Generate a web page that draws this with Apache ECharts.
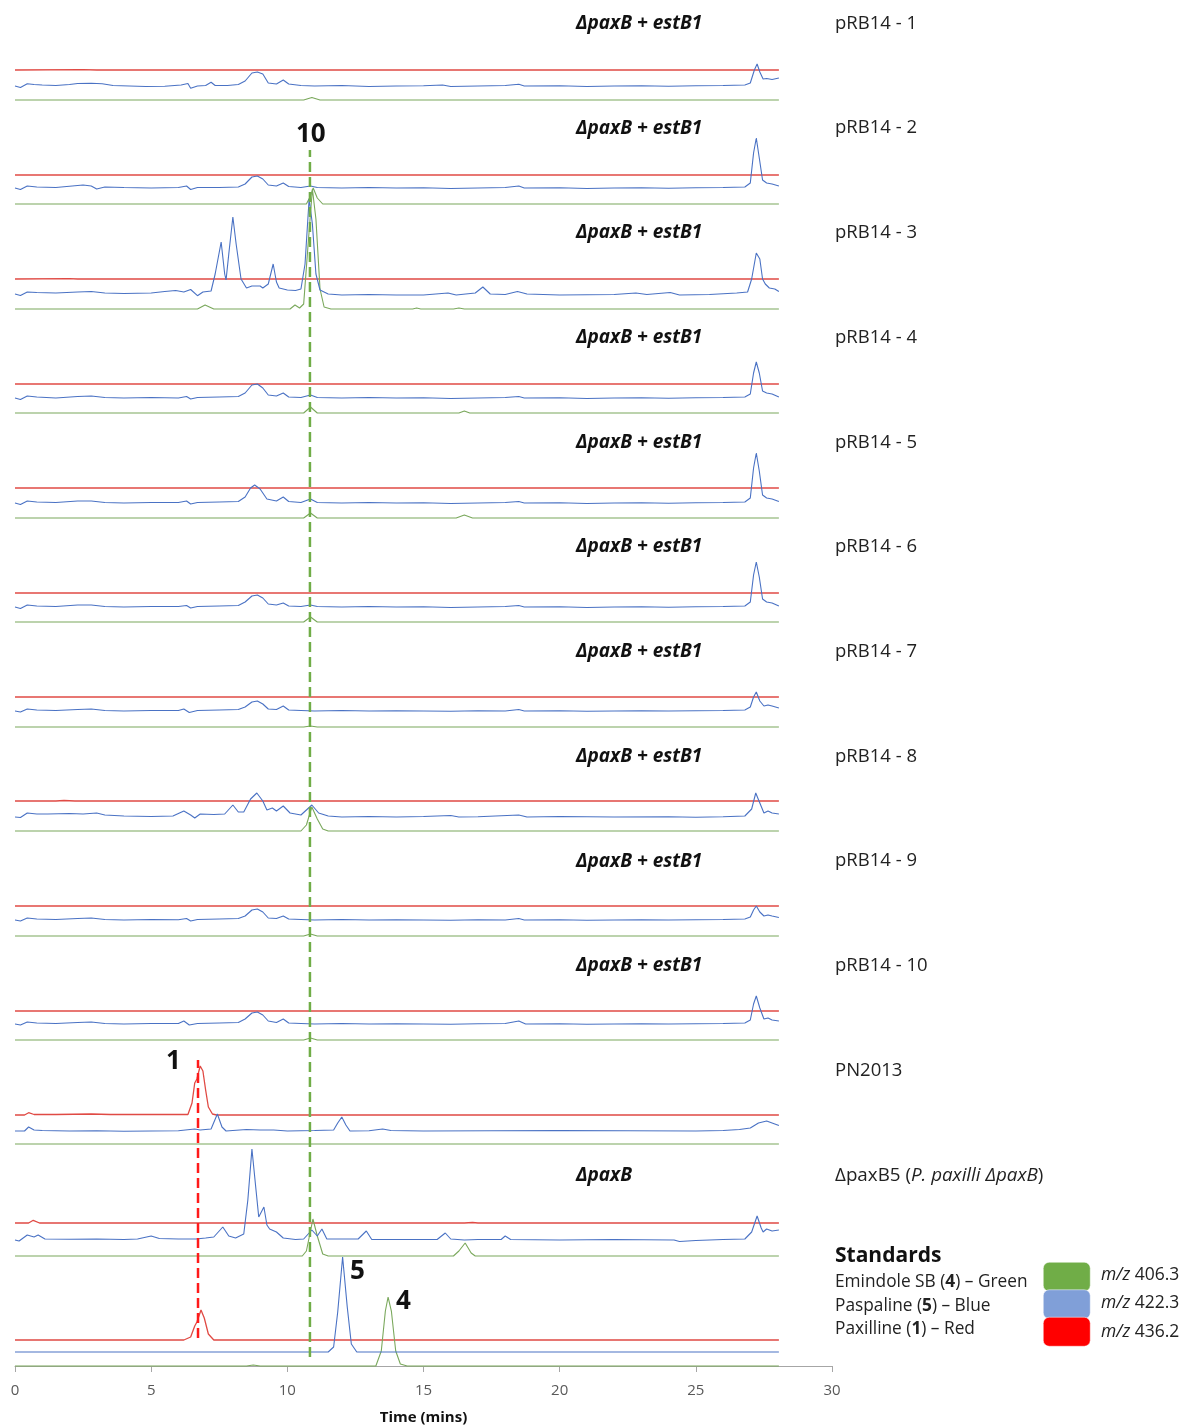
<!DOCTYPE html>
<html><head><meta charset="utf-8">
<script src="https://cdn.jsdelivr.net/npm/echarts@6/dist/echarts.min.js"></script>
<style>html,body{margin:0;padding:0;background:#fff}#c{width:1185px;height:1427px}</style>
</head><body><div id="c"></div>
<script>
// ---------------- DATA (time in min, intensity in relative units) ----------------
const timeTicks = [0, 5, 10, 15, 20, 25, 30];
const xAxisTitle = 'Time (mins)';
const panelTitles = ['ΔpaxB + estB1','ΔpaxB + estB1','ΔpaxB + estB1','ΔpaxB + estB1','ΔpaxB + estB1','ΔpaxB + estB1','ΔpaxB + estB1','ΔpaxB + estB1','ΔpaxB + estB1','ΔpaxB + estB1','','ΔpaxB',''];
const panelLabels = ['pRB14 - 1','pRB14 - 2','pRB14 - 3','pRB14 - 4','pRB14 - 5','pRB14 - 6','pRB14 - 7','pRB14 - 8','pRB14 - 9','pRB14 - 10','PN2013','{n|ΔpaxB5 (}{i|P. paxilli ΔpaxB}{n|)}',''];
const peakLabels = ['10','1','5','4'];
const markerTimes = {green: 10.83, red: 6.72};
const legendTitle = 'Standards';
const legendLines = ['Emindole SB ({b|4}) – Green','Paspaline ({b|5}) – Blue','Paxilline ({b|1}) – Red'];
const legendMz = ['406.3','422.3','436.2'];

const flat = [[0,0],[28.05,0]];

const red1 = [[0,0],[2.5,0.3],[3,0],[28.05,0]];
const blue1 = [[0,0],[0.2,-1.5],[0.45,2.2],[0.7,1.5],[1,1],[1.5,0.5],[2,1.5],[2.3,2.5],[2.8,2.8],[3.2,2.2],[3.6,0.5],[4.2,0],[4.8,-0.5],[5.5,-0.3],[6.1,1],[6.35,2.5],[6.45,-2.3],[6.7,0],[7,0.5],[7.2,3.7],[7.35,0.5],[7.8,0.5],[8.2,1.5],[8.45,5],[8.7,13],[8.9,14],[9.1,12],[9.3,3],[9.6,2],[9.85,6],[10.05,2],[10.5,0.5],[11,0],[12,0.5],[13,-0.5],[14,0],[15,0.3],[15.7,1],[16,-0.5],[17,0],[18,0.5],[18.5,1.7],[18.7,0],[20,0.3],[21,-0.5],[22,0],[23,0.2],[24,-0.3],[25,0.3],[26,0.5],[26.8,1],[27,3],[27.15,16],[27.25,22],[27.35,14],[27.47,7],[27.6,7.5],[27.8,6.5],[28.05,8]];
const green1 = [[0,0],[10.6,0],[10.9,2.5],[11.2,0],[28.05,0]];

const red2 = flat;
const blue2 = [[0,0],[0.2,-1.5],[0.45,2],[0.8,1],[1.5,0.5],[2.3,2.5],[2.5,3],[2.8,2],[3,-1],[3.3,1],[4,0.5],[5,0],[6,0.5],[6.3,2],[6.45,-1.5],[6.7,0.5],[7.5,0.5],[8.2,1],[8.45,4],[8.7,11],[8.9,12],[9.1,9],[9.3,3],[9.6,2],[9.85,5],[10.05,1.5],[10.5,0.5],[10.85,2],[11.1,0.5],[12,0],[13,0.5],[14,0],[15,0.3],[16,-0.5],[17,0],[18,0.5],[18.5,2],[18.7,0],[20,0.3],[21,-0.5],[22,0],[23,0.2],[24,-0.3],[25,0.3],[26,0.5],[26.8,1],[27,5],[27.12,35],[27.22,50],[27.33,30],[27.45,8],[27.6,5],[27.8,4],[28.05,2]];
const green2 = [[0,0],[10.7,0],[10.85,8],[10.95,16],[11.1,6],[11.3,0],[28.05,0]];

const red3 = [[0,0],[2,0.3],[2.3,0],[28.05,0]];
const blue3 = [[0,0],[0.2,-1.5],[0.45,2],[0.8,1.5],[1.5,1],[2.3,2],[2.8,2.5],[3.3,1],[4,0.5],[5,1],[5.5,2.5],[5.9,3.5],[6.2,2],[6.45,4.5],[6.7,-1.7],[6.9,2],[7.2,3],[7.35,20],[7.57,52],[7.7,20],[7.75,14],[7.85,40],[8,77],[8.12,50],[8.3,15],[8.5,6],[8.7,8],[9,8],[9.1,6],[9.3,10],[9.48,30],[9.6,12],[9.7,6],[10,4],[10.3,3.5],[10.5,5],[10.65,30],[10.8,95],[10.92,70],[11.05,20],[11.2,4],[11.5,0],[12,-1],[13,-0.5],[14,-1],[15,-1],[15.9,1],[16.2,-1],[16.9,1],[17.18,7],[17.45,0],[18,-0.5],[18.45,2.5],[18.8,0],[20,-1],[22,-0.5],[22.8,1],[23.2,-0.5],[24.06,1.5],[24.4,-1],[25.5,-0.5],[26.5,1],[26.9,2],[27.05,15],[27.22,41],[27.35,35],[27.45,15],[27.55,10],[27.6,12],[27.7,6],[27.9,5],[28.05,2.5]];
const green3 = [[0,0],[6.7,0],[6.98,4],[7.3,0],[10.1,0],[10.28,4],[10.45,1],[10.6,5],[10.75,60],[10.92,120],[11.05,90],[11.2,20],[11.35,2],[11.6,0],[14.6,0],[14.75,1],[14.9,0],[16.1,0],[16.3,1],[16.5,0],[28.05,0]];

const red4 = flat;
const blue4 = [[0,0],[0.2,-1.5],[0.45,2],[0.8,1],[1.5,0],[2.3,1.5],[2.8,2],[3.3,0.5],[4,0],[5,0.5],[6,0],[6.3,1.5],[6.45,-1],[6.7,0.5],[7.5,1],[8.2,1.5],[8.45,5],[8.7,13],[8.9,14],[9.1,10],[9.3,3],[9.6,2],[9.85,5],[10.05,1],[10.5,0.5],[10.85,3],[11.1,0.5],[12,0],[13,0.5],[14,0],[15,0.3],[16,-0.5],[17,0],[18,0.5],[18.5,1.5],[18.7,0],[20,0.3],[21,-0.5],[22,0],[23,0.2],[24,-0.3],[25,0.3],[26,0.5],[26.8,1],[27,4],[27.12,25],[27.22,36],[27.33,25],[27.45,7],[27.6,5],[27.8,4],[28.05,1]];
const green4 = [[0,0],[10.6,0],[10.85,6],[11.1,0],[16.3,0],[16.5,2],[16.7,0],[28.05,0]];

const red5 = flat;
const blue5 = [[0,0],[0.2,-1.5],[0.45,2],[0.8,1],[1.5,0.5],[2.3,2],[2.8,2],[3.3,0.5],[4,0],[5,0.5],[6,0.5],[6.3,2],[6.45,-1],[6.7,0.5],[7.5,1],[8.2,1.5],[8.45,6],[8.65,15],[8.8,18],[9,14],[9.25,4],[9.6,2],[9.85,6],[10.05,1.5],[10.5,0.5],[10.85,4],[11.1,0.5],[12,0],[13,0.5],[14,0],[15,0.3],[16,-0.5],[17,0],[18,0.5],[18.5,1.5],[18.7,0],[20,0.3],[21,-0.5],[22,0],[23,0.2],[24,-0.3],[25,0.3],[26,0.5],[26.8,1],[27,5],[27.12,35],[27.22,50],[27.33,32],[27.45,8],[27.6,5],[27.8,4],[28.05,1.5]];
const green5 = [[0,0],[10.6,0],[10.85,5],[11.1,0],[16.2,0],[16.5,3],[16.8,0],[28.05,0]];

const red6 = flat;
const blue6 = [[0,0],[0.2,-1.5],[0.45,2],[0.8,1],[1.5,0.5],[2.3,2],[2.8,2],[3.3,0.5],[4,0],[5,0.5],[6,0.5],[6.3,1.5],[6.45,-1],[6.7,0.5],[7.5,1],[8.2,1.5],[8.45,5],[8.7,11],[8.9,12],[9.1,9],[9.3,3],[9.6,2],[9.85,4],[10.05,1],[10.5,0.5],[10.85,2],[11.1,0.5],[12,0],[13,0.5],[14,0],[15,0.3],[16,-0.5],[17,0],[18,0.5],[18.5,1.5],[18.7,0],[20,0.3],[21,-0.5],[22,0],[23,0.2],[24,-0.3],[25,0.3],[26,0.5],[26.8,1],[27,5],[27.12,32],[27.22,45],[27.33,30],[27.45,8],[27.6,5],[27.8,4],[28.05,1]];
const green6 = [[0,0],[10.6,0],[10.85,5],[11.1,0],[28.05,0]];

const red7 = flat;
const blue7 = [[0,0],[0.2,-1],[0.45,2],[0.8,1],[1.5,0.5],[2.3,1.5],[2.8,2],[3.3,0.5],[4,0],[5,0.5],[6,0.5],[6.2,2],[6.4,-1.5],[6.7,0.5],[7.5,1],[8.2,1.5],[8.45,4],[8.7,9],[8.9,10],[9.1,7],[9.3,2],[9.6,1.5],[9.85,5],[10.05,1],[10.5,0.5],[11,0],[12,0.5],[13,0],[14,0.3],[15,0],[16,-0.3],[17,0.3],[18,0],[18.5,1.5],[18.7,0],[20,0.3],[21,-0.3],[22,0],[23,0.3],[24,0],[25,0.3],[26,0.5],[26.8,1],[27,4],[27.12,14],[27.22,19],[27.35,10],[27.5,5],[27.65,6],[27.8,5],[28.05,3]];
const green7 = [[0,0],[10.6,0],[10.85,1],[11.1,0],[28.05,0]];

const red8 = [[0,0],[1.5,0],[1.8,0.5],[2.2,0],[28.05,0]];
const blue8 = [[0,0],[0.2,-0.5],[0.45,4],[0.8,3],[1.2,3],[2,3.5],[2.5,3],[3,4],[3.3,2],[4,1],[5,0.5],[5.8,1],[6.2,6],[6.45,2],[6.6,-1],[6.8,3],[7.3,2.5],[7.7,3],[8,12],[8.2,5],[8.4,5],[8.65,18],[8.88,24],[9.1,16],[9.25,7],[9.45,9],[9.6,6],[9.85,11],[10.1,4],[10.5,2],[10.9,12],[11.15,4],[11.5,1],[12,0],[13,0.5],[14,0],[15,0.5],[16,1.5],[16.3,0],[17,0.3],[18.5,2],[18.8,0],[20,0.5],[22,0],[24,0.3],[25,-0.3],[26,0.3],[26.8,1],[27.05,8],[27.2,24],[27.35,14],[27.5,4],[27.65,6],[27.8,4],[28.05,3]];
const green8 = [[0,0],[10.5,0],[10.7,6],[10.9,24],[11.1,12],[11.3,2],[11.5,0],[28.05,0]];

const red9 = flat;
const blue9 = [[0,0],[0.2,-1],[0.45,2],[0.8,1],[1.5,0.5],[2.3,1.5],[2.8,2],[3.3,0.5],[4,0],[5,0.5],[6,0.3],[6.3,1.5],[6.45,-1],[6.7,0.5],[7.5,1],[8.2,1.5],[8.45,4],[8.7,10],[8.9,11],[9.1,8],[9.3,2],[9.6,1.5],[9.85,4],[10.05,1],[10.5,0.5],[11,0],[12,0.5],[13,0],[14,0.3],[15,0],[16,-0.3],[17,0.3],[18,0],[18.5,1.5],[18.7,0],[20,0.3],[21,-0.3],[22,0],[23,0.3],[24,0],[25,0.3],[26,0.5],[26.8,1],[27,3],[27.12,10],[27.22,14],[27.35,8],[27.5,4],[27.65,5],[27.8,4],[28.05,2.5]];
const green9 = [[0,0],[10.6,0],[10.85,2],[11.1,0],[28.05,0]];

const red10 = flat;
const blue10 = [[0,0],[0.2,-1],[0.45,2],[0.8,1],[1.5,0.5],[2.3,1.5],[2.8,2],[3.3,0.5],[4,0],[5,0.5],[6,0.5],[6.2,3],[6.4,-1],[6.7,0.5],[7.5,1],[8.2,1.5],[8.45,5],[8.7,11],[8.9,12],[9.1,9],[9.3,3],[9.6,1.5],[9.85,5],[10.05,1],[10.5,0.5],[11,0],[12,0.5],[13,0],[14,0.3],[15,0],[16,-0.3],[17,0.3],[18,0.5],[18.5,3],[18.75,0],[20,0.3],[21,-0.3],[22,0],[23,0.3],[24,0],[25,0.3],[26,0.5],[26.8,1],[27,4],[27.12,20],[27.22,28],[27.35,16],[27.5,5],[27.65,6],[27.8,4],[28.05,3]];
const green10 = [[0,0],[10.6,0],[10.85,2],[11.1,0],[28.05,0]];

const redPN = [[0,0],[0.35,0],[0.5,2.3],[0.7,0.5],[1.5,0.5],[2.8,1],[3.5,0.5],[6.35,0.5],[6.5,12],[6.6,32],[6.68,36],[6.8,49],[6.9,44],[7,25],[7.1,8],[7.25,1],[7.4,0],[28.05,0]];
const bluePN = [[0,0],[0.35,0],[0.5,4],[0.7,1],[1,0.5],[2,0],[3,0.3],[4,-0.3],[5,0],[6,0.3],[6.6,2],[6.8,1],[7.2,2],[7.43,17],[7.6,4],[7.75,0],[8.5,1.5],[9,1],[9.5,1],[10,0],[11,0.5],[11.7,1],[11.85,8],[12,14],[12.15,6],[12.3,0],[13,0.3],[13.5,2],[13.8,0.5],[15,0],[20,0.5],[25,0],[26,0.5],[26.6,1.5],[27,3],[27.3,8],[27.6,10],[27.8,8],[28.05,5.5]];
const greenPN = flat;

const redB5 = [[0,0],[0.5,0],[0.67,2.7],[0.9,0],[16.5,0],[16.8,0.5],[17,0],[28.05,0]];
const blueB5 = [[0,0],[0.15,-1],[0.45,5],[0.7,3],[0.85,5],[1.1,1],[2,0.7],[3,1],[4,0.5],[4.5,1],[5,4],[5.3,1.5],[6,1],[6.5,1],[6.55,-1],[6.65,1],[7,2],[7.3,3],[7.63,13],[7.85,4],[8.1,2],[8.4,6],[8.55,40],[8.7,91],[8.85,50],[8.95,23],[9,22],[9.14,33],[9.25,15],[9.35,11],[9.6,8],[9.85,2],[10.3,0.5],[10.6,1],[10.9,10],[11.1,4],[11.27,11],[11.45,1],[12,1],[12.6,1],[12.9,9],[13.1,0.5],[14,0.5],[15.5,0.5],[15.8,7],[16,1],[16.5,0],[17,0.5],[17.85,0.5],[18,4],[18.2,0.5],[20,0],[22,0.5],[24.2,0],[24.4,-1.5],[25,-0.5],[26,0.5],[26.8,1],[27.05,8],[27.25,24],[27.4,12],[27.47,8],[27.6,11],[27.8,9],[28.05,10]];
const greenB5 = [[0,0],[10.55,0],[10.7,5],[10.94,37],[11.1,20],[11.3,2],[11.5,0],[16.1,0],[16.3,5],[16.53,13],[16.75,3],[16.9,0],[28.05,0]];

const redStd = [[0,0],[6.2,0],[6.45,3],[6.6,14],[6.68,18],[6.74,17],[6.83,30],[6.95,22],[7.1,6],[7.3,0],[28.05,0]];
const blueStd = [[0,0],[11.5,0],[11.7,5],[11.85,40],[12.03,95],[12.2,45],[12.35,8],[12.55,0],[28.05,0]];
const greenStd = [[0,0],[8.5,0],[8.75,1],[9,0],[13.25,0],[13.45,15],[13.6,55],[13.7,69],[13.82,55],[13.98,15],[14.15,2],[14.4,0],[28.05,0]];

const redTraces = [red1,red2,red3,red4,red5,red6,red7,red8,red9,red10,redPN,redB5,redStd];
const blueTraces = [blue1,blue2,blue3,blue4,blue5,blue6,blue7,blue8,blue9,blue10,bluePN,blueB5,blueStd];
const greenTraces = [green1,green2,green3,green4,green5,green6,green7,green8,green9,green10,greenPN,greenB5,greenStd];

// ---------------- LAYOUT ----------------
const FONT = '"Open Sans", "Noto Sans", sans-serif';
const PLOT_LEFT = 15, PLOT_W = 817;
const redBase   = [70,175,279,384,488,593,697,801,906,1011,1115,1223,1340];
const blueBase  = [86,188,294,398,503,607,711,817,920,1024,1131,1240,1352];
const greenBase = [100,204,309,413,518,622,727,831,936,1040,1144,1256,1366];
const titleY = i => 22 + i * 104.7;
const COLORS = {red:'#e04a44', blue:'#4a72c4', green:'#7aa85c'};

const grids = [], xAxes = [], yAxes = [], series = [];
function addTrace(data, base, color, width, z) {
  const idx = grids.length;
  grids.push({left: PLOT_LEFT, width: PLOT_W, top: base - 60, height: 70});
  xAxes.push({gridIndex: idx, type: 'value', min: 0, max: 30, show: false});
  yAxes.push({gridIndex: idx, type: 'value', min: -10, max: 60, show: false});
  series.push({type: 'line', xAxisIndex: idx, yAxisIndex: idx, data: data, showSymbol: false, clip: false,
    silent: true, animation: false, z: z, lineStyle: {color: color, width: width}});
}
for (let i = 0; i < 13; i++) {
  addTrace(redTraces[i], redBase[i], COLORS.red, 1.3, 2);
  addTrace(greenTraces[i], greenBase[i], COLORS.green, 1.1, 3);
  addTrace(blueTraces[i], blueBase[i], COLORS.blue, 1.1, 4);
}
// main axis grid
const axIdx = grids.length;
grids.push({left: PLOT_LEFT, width: PLOT_W, top: 1300, height: 66});
xAxes.push({gridIndex: axIdx, type: 'value', min: timeTicks[0], max: timeTicks[timeTicks.length-1], interval: 5,
  axisLine: {show: true, lineStyle: {color: '#a6a6a6', width: 1}},
  axisTick: {show: true, length: 6, lineStyle: {color: '#a6a6a6'}},
  splitLine: {show: false},
  axisLabel: {color: '#595959', fontSize: 15, fontFamily: FONT, margin: 17},
  name: xAxisTitle, nameLocation: 'middle', nameGap: 44,
  nameTextStyle: {color: '#111', fontSize: 15, fontWeight: 'bold', fontFamily: FONT}});
yAxes.push({gridIndex: axIdx, type: 'value', min: 0, max: 1, show: false});
series.push({type: 'line', xAxisIndex: axIdx, yAxisIndex: axIdx, data: [], silent: true});

// dashed marker lines
function addMarker(t, top, bottom, color) {
  const idx = grids.length;
  grids.push({left: PLOT_LEFT, width: PLOT_W, top: top, height: bottom - top});
  xAxes.push({gridIndex: idx, type: 'value', min: 0, max: 30, show: false});
  yAxes.push({gridIndex: idx, type: 'value', min: 0, max: 1, show: false});
  series.push({type: 'line', xAxisIndex: idx, yAxisIndex: idx, data: [[t,0],[t,1]], showSymbol: false,
    silent: true, animation: false, z: 10, lineStyle: {color: color, width: 2.5, type: [10, 5]}});
}
addMarker(markerTimes.green, 150, 1357, '#70ad47');
addMarker(markerTimes.red, 1060, 1338, '#ff1a1a');

// texts
const graphics = [];
for (let i = 0; i < 12; i++) {
  if (panelTitles[i]) graphics.push({type: 'text', left: 576, top: titleY(i) - 8, z: 20,
    style: {text: panelTitles[i], font: 'italic bold 19px ' + FONT, fill: '#111'}});
  graphics.push({type: 'text', left: 835, top: titleY(i) - 8, z: 20,
    style: {text: panelLabels[i], font: '18.5px ' + FONT, fill: '#222',
      rich: {n: {font: '18.8px ' + FONT, fill: '#222'}, i: {font: 'italic 18.8px ' + FONT, fill: '#222'}}}});
}
const bigFont = 'bold 26px ' + FONT;
graphics.push({type:'text', left: 296, top: 122, z: 20, style:{text: peakLabels[0], font: bigFont, fill:'#111'}});
graphics.push({type:'text', left: 166, top: 1049, z: 20, style:{text: peakLabels[1], font: bigFont, fill:'#111'}});
graphics.push({type:'text', left: 350, top: 1259, z: 20, style:{text: peakLabels[2], font: bigFont, fill:'#111'}});
graphics.push({type:'text', left: 396, top: 1289, z: 20, style:{text: peakLabels[3], font: bigFont, fill:'#111'}});
// legend
graphics.push({type:'text', left: 835, top: 1246, z: 20, style:{text: legendTitle, font: 'bold 21px ' + FONT, fill:'#111'}});
const legColors = ['#70ad47', '#809fd8', '#ff0000'];
for (let k = 0; k < 3; k++) {
  graphics.push({type:'text', left: 835, top: 1274 + k * 23.5, z: 20,
    style:{text: legendLines[k], font: '17.3px ' + FONT, fill:'#222',
      rich: {b: {font: 'bold 17.3px ' + FONT, fill: '#222'}}}});
  graphics.push({type:'rect', left: 1043, top: 1262 + k * 27.5, z: 19,
    shape:{width: 47, height: 29, r: 6}, style:{fill: legColors[k], stroke: '#ffffff', lineWidth: 0.5}});
  graphics.push({type:'text', left: 1101, top: 1266 + k * 28.5, z: 20,
    style:{text: '{i|m/z} ' + legendMz[k], font: '17.5px ' + FONT, fill:'#222',
      rich: {i: {font: 'italic 17.5px ' + FONT, fill: '#222'}}}});
}

const chart = echarts.init(document.getElementById('c'), null, {renderer: 'canvas'});
chart.setOption({
  animation: false,
  backgroundColor: '#ffffff',
  grid: grids, xAxis: xAxes, yAxis: yAxes, series: series, graphic: graphics
});
</script></body></html>
